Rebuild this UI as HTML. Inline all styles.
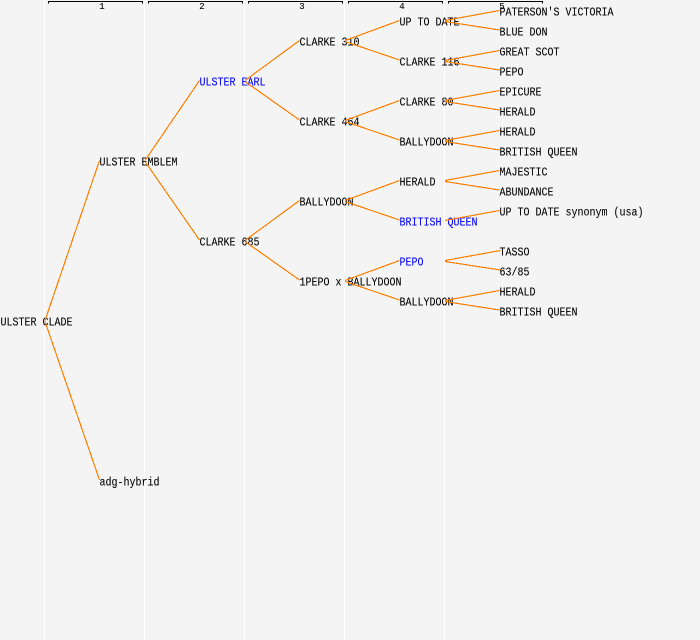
<!DOCTYPE html>
<html>
<head>
<meta charset="utf-8">
<style>
html,body{margin:0;padding:0;background:#f4f4f4;}
svg{display:block;}
text{font-family:"Liberation Mono",monospace;font-size:12px;fill:#000;stroke:#000;stroke-width:.1px;}
.b{fill:#0000ff;stroke:#0000ff;}
.n{font-size:9px;text-anchor:middle;}
</style>
</head>
<body>
<svg width="700" height="640" viewBox="0 0 700 640" xmlns="http://www.w3.org/2000/svg">
<rect width="700" height="640" fill="#f4f4f4"/>
<g stroke="#ffffff" stroke-width="1" shape-rendering="crispEdges">
<path d="M44.5 0V640M144.5 0V640M244.5 0V640M344.5 0V640M444.5 0V640"/>
</g>
<g fill="none" stroke="#000" stroke-width="1" shape-rendering="crispEdges">
<path d="M48.5 3.5V1.5H142.5V3.5"/>
<path d="M148.5 3.5V1.5H242.5V3.5"/>
<path d="M248.5 3.5V1.5H342.5V3.5"/>
<path d="M348.5 3.5V1.5H442.5V3.5"/>
<path d="M448.5 3.5V1.5H542.5V3.5"/>
</g>
<text class="n" x="102" y="9">1</text>
<text class="n" x="202" y="9">2</text>
<text class="n" x="302" y="9">3</text>
<text class="n" x="402" y="9">4</text>
<text class="n" x="502" y="9">5</text>

<g transform="translate(0.5,-0.5)">
<text x="0" y="326" textLength="72" lengthAdjust="spacingAndGlyphs">ULSTER CLADE</text>
<text x="99" y="166" textLength="78" lengthAdjust="spacingAndGlyphs">ULSTER EMBLEM</text>
<text x="99" y="486" textLength="60" lengthAdjust="spacingAndGlyphs">adg-hybrid</text>
<text class="b" x="199" y="86" textLength="66" lengthAdjust="spacingAndGlyphs">ULSTER EARL</text>
<text x="199" y="246" textLength="60" lengthAdjust="spacingAndGlyphs">CLARKE 685</text>
<text x="299" y="46" textLength="60" lengthAdjust="spacingAndGlyphs">CLARKE 310</text>
<text x="299" y="126" textLength="60" lengthAdjust="spacingAndGlyphs">CLARKE 464</text>
<text x="299" y="206" textLength="54" lengthAdjust="spacingAndGlyphs">BALLYDOON</text>
<text x="299" y="286" textLength="102" lengthAdjust="spacingAndGlyphs">1PEPO x BALLYDOON</text>
<text x="399" y="26" textLength="60" lengthAdjust="spacingAndGlyphs">UP TO DATE</text>
<text x="399" y="66" textLength="60" lengthAdjust="spacingAndGlyphs">CLARKE 116</text>
<text x="399" y="106" textLength="54" lengthAdjust="spacingAndGlyphs">CLARKE 80</text>
<text x="399" y="146" textLength="54" lengthAdjust="spacingAndGlyphs">BALLYDOON</text>
<text x="399" y="186" textLength="36" lengthAdjust="spacingAndGlyphs">HERALD</text>
<text class="b" x="399" y="226" textLength="78" lengthAdjust="spacingAndGlyphs">BRITISH QUEEN</text>
<text class="b" x="399" y="266" textLength="24" lengthAdjust="spacingAndGlyphs">PEPO</text>
<text x="399" y="306" textLength="54" lengthAdjust="spacingAndGlyphs">BALLYDOON</text>
<text x="499" y="16" textLength="114" lengthAdjust="spacingAndGlyphs">PATERSON'S VICTORIA</text>
<text x="499" y="36" textLength="48" lengthAdjust="spacingAndGlyphs">BLUE DON</text>
<text x="499" y="56" textLength="60" lengthAdjust="spacingAndGlyphs">GREAT SCOT</text>
<text x="499" y="76" textLength="24" lengthAdjust="spacingAndGlyphs">PEPO</text>
<text x="499" y="96" textLength="42" lengthAdjust="spacingAndGlyphs">EPICURE</text>
<text x="499" y="116" textLength="36" lengthAdjust="spacingAndGlyphs">HERALD</text>
<text x="499" y="136" textLength="36" lengthAdjust="spacingAndGlyphs">HERALD</text>
<text x="499" y="156" textLength="78" lengthAdjust="spacingAndGlyphs">BRITISH QUEEN</text>
<text x="499" y="176" textLength="48" lengthAdjust="spacingAndGlyphs">MAJESTIC</text>
<text x="499" y="196" textLength="54" lengthAdjust="spacingAndGlyphs">ABUNDANCE</text>
<text x="499" y="216" textLength="144" lengthAdjust="spacingAndGlyphs">UP TO DATE synonym (usa)</text>
<text x="499" y="256" textLength="30" lengthAdjust="spacingAndGlyphs">TASSO</text>
<text x="499" y="276" textLength="30" lengthAdjust="spacingAndGlyphs">63/85</text>
<text x="499" y="296" textLength="36" lengthAdjust="spacingAndGlyphs">HERALD</text>
<text x="499" y="316" textLength="78" lengthAdjust="spacingAndGlyphs">BRITISH QUEEN</text>
</g>

<g fill="none" stroke="#ff8000" stroke-width="1.2" shape-rendering="crispEdges">
<path d="M45 320.5L99.5 160.5M45 321.5L99.5 480"/>
<path d="M145 160.5L199.5 80.5M145 161.5L199.5 240"/>
<path d="M245 80.5L299.5 40.5M245 81.5L299.5 120"/>
<path d="M245 240.5L299.5 200.5M245 241.5L299.5 280"/>
<path d="M345 40.5L399.5 20.5M345 41.5L399.5 60"/>
<path d="M345 120.5L399.5 100.5M345 121.5L399.5 140"/>
<path d="M345 200.5L399.5 180.5M345 201.5L399.5 220"/>
<path d="M345 280.5L399.5 260.5M345 281.5L399.5 300"/>
<path d="M445 20.5L499.5 10.5M445 21.5L499.5 30"/>
<path d="M445 60.5L499.5 50.5M445 61.5L499.5 70"/>
<path d="M445 100.5L499.5 90.5M445 101.5L499.5 110"/>
<path d="M445 140.5L499.5 130.5M445 141.5L499.5 150"/>
<path d="M445 180.5L499.5 170.5M445 181.5L499.5 190"/>
<path d="M445 220.5L499.5 210.5"/>
<path d="M445 260.5L500.5 250.5M445 261.5L500.5 270"/>
<path d="M445 300.5L499.5 290.5M445 301.5L499.5 310"/>
</g>
</svg>
</body>
</html>
